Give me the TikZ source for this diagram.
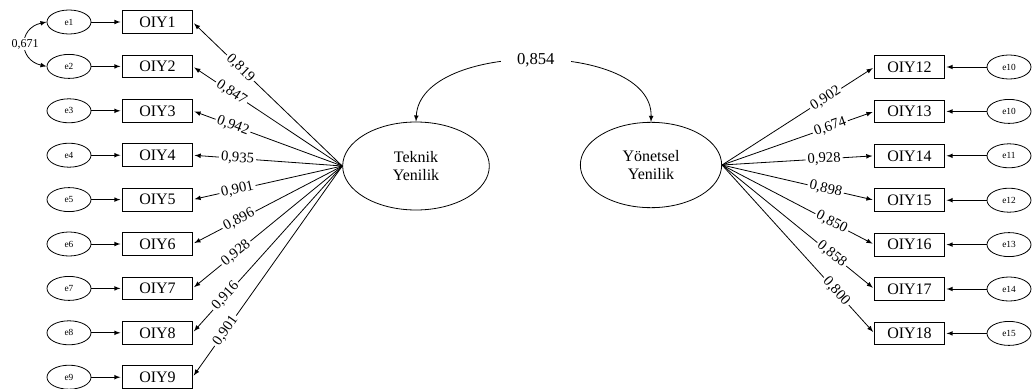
\documentclass[tikz,border=0pt]{standalone}
\usepackage{fontspec}
\setmainfont{Liberation Serif}
\usetikzlibrary{shapes.geometric,arrows,positioning,calc}

\tikzset{
  indicator/.style={draw, rectangle, line width=0.6pt, minimum width=52pt, minimum height=17pt, inner sep=1pt, font=\fontsize{12}{14}\selectfont},
  errterm/.style={draw, ellipse, line width=0.6pt, minimum width=33pt, minimum height=18pt, inner sep=0pt, font=\fontsize{7}{8}\selectfont},
  latent/.style={draw, ellipse, line width=0.6pt, minimum width=110pt, minimum height=66pt, align=center, font=\fontsize{12}{13}\selectfont},
  loading/.style={sloped, fill=white, inner sep=1.5pt, font=\fontsize{11}{12}\selectfont},
  link/.style={-latex, line width=0.6pt, shorten >=1.5pt}
}

\begin{document}
\begin{tikzpicture}[x=0.75pt, y=-0.75pt]
        \useasboundingbox (0,0) rectangle (1032,389);

        % Latent variables
        \node[latent] (tek) at (416,166) {Teknik\\Yenilik};
        \node[latent, minimum width=106pt, minimum height=64pt] (yon) at (651,165) {Yönetsel\\Yenilik};

        % Left indicators
        \foreach \i/\w/\p in {1/819/0.68, 2/847/0.74, 3/942/0.73, 4/935/0.7, 5/901/0.7, 6/896/0.69, 7/928/0.71, 8/916/0.78, 9/901/0.78}{
            \node[errterm] (e\i) at (69,{22+44.4*(\i-1)}) {e\i};
            \node[indicator] (oiy\i) at (157.5,{22+44.4*(\i-1)}) {OIY\i};
            \draw[link] (e\i) -- (oiy\i);
            \draw[link] (tek.west) -- node[loading, pos=\p] (lt\i) {0,\w} (oiy\i.east);
        }

        % Right indicators
        \foreach \n/\e/\w/\p in {12/10/902/0.68, 13/10/674/0.71, 14/11/928/0.67, 15/12/898/0.68, 16/13/850/0.72, 17/14/858/0.72, 18/15/800/0.75}{
            \node[indicator] (oiy\n) at (909.5,{67+44.4*(\n-12)}) {OIY\n};
            \node[errterm] (r\n) at (1009,{67+44.4*(\n-12)}) {e\e};
            \draw[link] (r\n) -- (oiy\n);
            \draw[link] (yon.east) -- node[loading, pos=\p] (ly\n) {0,\w} (oiy\n.west);
        }

        % Covariances
        \draw[latex-latex, line width=0.6pt] (tek.north) .. controls (420,40) and (653,40) ..
            node[fill=white, inner xsep=12pt, font=\fontsize{12.5}{13}\selectfont] (cov) {0,854} (yon.north);
        \draw[latex-latex, line width=0.6pt] (e1.west) .. controls (18,28) and (18,60) ..
            node[fill=white, inner sep=1pt, font=\fontsize{9}{10}\selectfont] (cov12) {0,671} (e2.west);
    \end{tikzpicture}
\end{document}
